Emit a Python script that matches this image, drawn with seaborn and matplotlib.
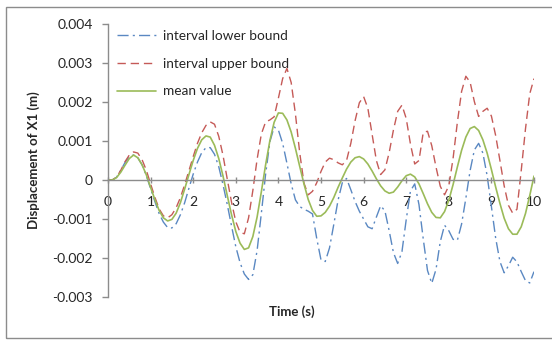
import numpy as np
import seaborn as sns
import matplotlib.pyplot as plt
from matplotlib.patches import Rectangle
from matplotlib.ticker import FuncFormatter, MultipleLocator

# --- DANE (jednostki 0.001 m) ---
czas = np.linspace(0, 10, 101)

dolna = [0, 0, 0.07, 0.25, 0.45, 0.6, 0.64, 0.57, 0.39, 0.11,
         -0.22, -0.55, -0.86, -1.08, -1.22, -1.23, -1.12, -0.89, -0.58, -0.21,
         0.15, 0.46, 0.7, 0.83, 0.83, 0.66, 0.34, -0.12, -0.63, -1.18,
         -1.71, -2.12, -2.41, -2.55, -2.43, -1.81, -0.85, 0.15, 0.98, 1.36,
         1.28, 0.94, 0.43, -0.1, -0.51, -0.68, -0.75, -0.8, -0.87, -1.5,
         -2.05, -2.09, -1.74, -1.14, -0.52, -0.07, 0.04, -0.25, -0.55, -0.8,
         -1.0, -1.2, -1.25, -0.95, -0.66, -0.79, -1.3, -1.86, -2.14, -1.84,
         -1.02, -0.28, -0.1, -0.63, -1.51, -2.32, -2.65, -2.29, -1.58, -1.16,
         -1.3, -1.52, -1.55, -1.13, -0.47, 0.24, 0.77, 0.94, 0.69, 0.11,
         -0.68, -1.49, -2.09, -2.38, -2.2, -1.98, -2.1, -2.35, -2.58, -2.64,
         -2.35]

gorna = [0, 0, 0.07, 0.25, 0.47, 0.64, 0.72, 0.69, 0.52, 0.25,
         -0.1, -0.44, -0.74, -0.92, -0.97, -0.89, -0.71, -0.45, -0.12, 0.24,
         0.6, 0.94, 1.21, 1.4, 1.49, 1.43, 1.12, 0.63, 0.02, -0.57,
         -1.07, -1.34, -1.38, -0.97, -0.27, 0.53, 1.18, 1.49, 1.54, 1.62,
         2.1, 2.6, 2.86, 2.5, 1.69, 0.7, -0.08, -0.38, -0.29, -0.07,
         0.22, 0.46, 0.56, 0.52, 0.44, 0.39, 0.5, 0.94, 1.52, 1.98,
         2.14, 1.84, 1.17, 0.5, 0.14, 0.26, 0.7, 1.28, 1.76, 1.92,
         1.58, 0.92, 0.41, 0.5, 1.22, 1.25, 0.88, 0.33, -0.16, -0.38,
         -0.15, 0.55, 1.47, 2.27, 2.66, 2.51, 2.01, 1.63, 1.76, 1.84,
         1.64, 1.14, 0.5, -0.15, -0.65, -0.85, -0.75, 0.24, 1.31, 2.21,
         2.6]

srednia = [0, 0, 0.06, 0.2, 0.38, 0.55, 0.64, 0.57, 0.39, 0.13,
           -0.19, -0.5, -0.78, -0.97, -1.05, -1.01, -0.85, -0.58, -0.23, 0.14,
           0.5, 0.81, 1.03, 1.13, 1.1, 0.89, 0.55, 0.1, -0.4, -0.89,
           -1.32, -1.62, -1.78, -1.74, -1.45, -0.95, -0.3, 0.39, 1.01, 1.48,
           1.72, 1.71, 1.54, 1.23, 0.81, 0.35, -0.1, -0.5, -0.78, -0.93,
           -0.92, -0.83, -0.67, -0.45, -0.19, 0.05, 0.28, 0.46, 0.57, 0.6,
           0.54, 0.41, 0.23, 0.03, -0.15, -0.28, -0.34, -0.31, -0.18, -0.02,
           0.11, 0.15, 0.08, -0.1, -0.35, -0.61, -0.83, -0.96, -0.97, -0.81,
           -0.52, -0.12, 0.33, 0.76, 1.1, 1.32, 1.37, 1.27, 1.03, 0.69,
           0.27, -0.18, -0.6, -0.98, -1.25, -1.39, -1.39, -1.2, -0.86, -0.4,
           0.1]

etykiety = ['interval lower bound', 'interval upper bound', 'mean value']
kolory = ['#5A88C2', '#C55A57', '#9BBB59']

# --- STYL ---
sns.set_theme(style="white")
plt.rcParams['font.family'] = ['Lato', 'DejaVu Sans']
plt.rcParams['axes.unicode_minus'] = False

fig = plt.figure(figsize=(5.52, 3.40), dpi=100)
ax = fig.add_axes([108 / 552, 43 / 340, 426 / 552, 273 / 340])

sns.lineplot(x=czas, y=np.array(dolna) * 1e-3, ax=ax, color=kolory[0], linewidth=1.0,
             label=etykiety[0]).lines[-1].set_dashes([8, 3, 1.5, 3])
sns.lineplot(x=czas, y=np.array(gorna) * 1e-3, ax=ax, color=kolory[1], linewidth=1.0,
             label=etykiety[1]).lines[-1].set_dashes([6, 3.5])
sns.lineplot(x=czas, y=np.array(srednia) * 1e-3, ax=ax, color=kolory[2], linewidth=1.2,
             label=etykiety[2])

ax.set_xlim(0, 10)
ax.set_ylim(-0.003, 0.004)
ax.xaxis.set_major_locator(MultipleLocator(1))
ax.yaxis.set_major_locator(MultipleLocator(0.001))
ax.yaxis.set_major_formatter(FuncFormatter(lambda v, p: '0' if abs(v) < 1e-9 else f'{v:.3f}'))

for s in ['top', 'right']:
    ax.spines[s].set_visible(False)
ax.spines['bottom'].set_position(('data', 0))
ax.spines['bottom'].set_color('#8c8c8c')
ax.spines['left'].set_color('#8c8c8c')
ax.spines['bottom'].set_linewidth(1)
ax.spines['left'].set_linewidth(1)

ax.tick_params(axis='y', which='major', left=True, direction='out', length=4, width=1,
               color='#8c8c8c', pad=7, labelsize=10, labelcolor='#262626')
ax.tick_params(axis='x', which='major', bottom=True, direction='inout', length=5, width=1,
               color='#8c8c8c', pad=9, labelsize=10, labelcolor='#262626')

ax.set_xlabel('Time (s)', fontsize=9.5, fontweight='bold', color='#262626')
ax.set_ylabel('Displacement of X1 (m)', fontsize=9.5, fontweight='bold', color='#262626')
ax.xaxis.set_label_coords(0.432, -0.03)
ax.yaxis.set_label_coords(-0.16, 0.5)

leg = ax.legend(loc='upper left', bbox_to_anchor=(117 / 552, 1 - 30 / 340),
                bbox_transform=fig.transFigure, frameon=False, fontsize=9.8,
                handlelength=2.85, handletextpad=0.5, labelspacing=1.15,
                borderpad=0, borderaxespad=0)
for t in leg.get_texts():
    t.set_color('#262626')

# ramka obszaru wykresu
fig.patches.append(Rectangle((6 / 552, 2 / 340), 560 / 552, 331 / 340, transform=fig.transFigure,
                             fill=False, edgecolor='#8c8c8c', linewidth=1))

fig.savefig('out.png', dpi=100)
